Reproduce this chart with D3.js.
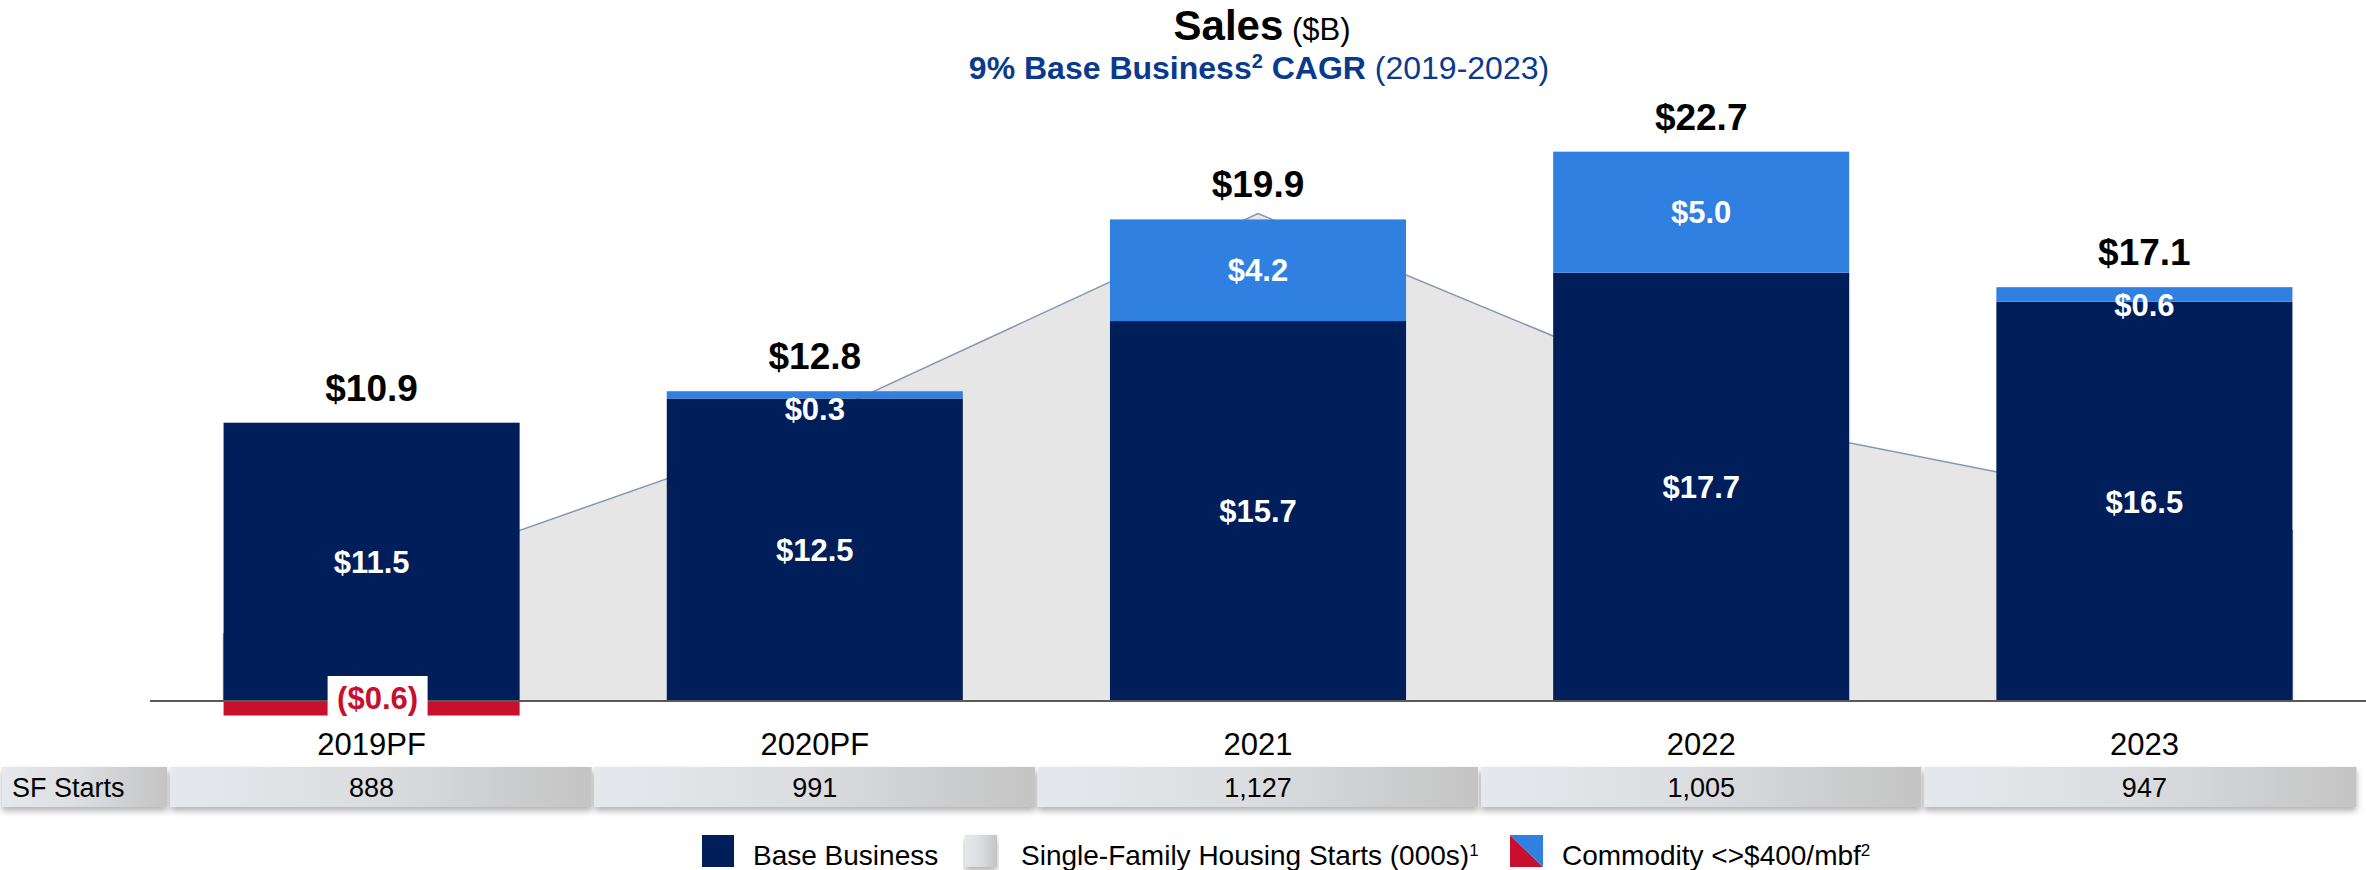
<!DOCTYPE html>
<html>
<head>
<meta charset="utf-8">
<script src="https://cdn.jsdelivr.net/npm/d3@7"></script>
<style>
  body { margin: 0; background: #fff; }
  text { font-family: "Liberation Sans", Arial, sans-serif; }
</style>
</head>
<body>
<div id="chart"></div>
<script>
  const years = ["2019PF", "2020PF", "2021", "2022", "2023"];
  const baseBusiness = [11.5, 12.5, 15.7, 17.7, 16.5];
  const commodity = [-0.6, 0.3, 4.2, 5.0, 0.6];
  const totals = [10.9, 12.8, 19.9, 22.7, 17.1];
  const sfStarts = [888, 991, 1127, 1005, 947];

  const width = 2366;
  const height = 870;
  const baseY = 701;

  const navy = "#001e5a";
  const blue = "#2f80e0";
  const red = "#c8102e";

  const svg = d3.select("#chart")
    .append("svg")
    .attr("width", width)
    .attr("height", height);

  const defs = svg.append("defs");

  const cellGrad = defs.append("linearGradient")
    .attr("id", "cellGrad")
    .attr("x1", "0").attr("x2", "1").attr("y1", "0").attr("y2", "0");
  cellGrad.append("stop").attr("offset", "0%").attr("stop-color", "#e5e8ec");
  cellGrad.append("stop").attr("offset", "45%").attr("stop-color", "#dcdee1");
  cellGrad.append("stop").attr("offset", "100%").attr("stop-color", "#c4c4c4");

  const shadow = defs.append("filter")
    .attr("id", "shadow")
    .attr("x", "-5%").attr("y", "-20%")
    .attr("width", "110%").attr("height", "160%");
  shadow.append("feDropShadow")
    .attr("dx", 0).attr("dy", 4)
    .attr("stdDeviation", 3)
    .attr("flood-color", "#000")
    .attr("flood-opacity", 0.3);

  const x = d3.scaleBand()
    .domain(years)
    .range([150, 2366])
    .paddingInner(0.332)
    .paddingOuter(0.166);

  const y = d3.scaleLinear()
    .domain([0, 25])
    .range([baseY, baseY - 25 * 24.2]);

  // housing starts area behind the bars, from first bar left edge to last bar right edge
  const xArea = d3.scalePoint()
    .domain(years)
    .range([x(years[0]), x(years[years.length - 1]) + x.bandwidth()]);

  const ySf = d3.scaleLinear()
    .domain([850, 1150])
    .range([baseY, 173]);

  const sfData = years.map((yr, i) => ({ year: yr, value: sfStarts[i] }));

  const area = d3.area()
    .x(d => xArea(d.year))
    .y0(baseY)
    .y1(d => ySf(d.value));

  svg.append("path")
    .datum(sfData)
    .attr("d", area)
    .attr("fill", "#e6e6e6");

  const outline = "M" + xArea(years[0]) + "," + baseY + "L" +
    sfData.map(d => xArea(d.year) + "," + ySf(d.value)).join("L") +
    "L" + xArea(years[years.length - 1]) + "," + baseY;

  svg.append("path")
    .attr("d", outline)
    .attr("fill", "none")
    .attr("stroke", "#8497b0")
    .attr("stroke-width", 1.5);

  const bars = years.map((yr, i) => ({
    year: yr,
    base: baseBusiness[i],
    comm: commodity[i],
    total: totals[i]
  }));

  const g = svg.append("g");

  g.selectAll(".base")
    .data(bars)
    .enter()
    .append("rect")
    .attr("class", "base")
    .attr("x", d => x(d.year))
    .attr("width", x.bandwidth())
    .attr("y", d => y(d.base))
    .attr("height", d => y(0) - y(d.base))
    .attr("fill", navy);

  g.selectAll(".comm")
    .data(bars)
    .enter()
    .append("rect")
    .attr("class", "comm")
    .attr("x", d => x(d.year))
    .attr("width", x.bandwidth())
    .attr("y", d => d.comm >= 0 ? y(d.base + d.comm) : y(0))
    .attr("height", d => Math.abs(y(0) - y(Math.abs(d.comm))))
    .attr("fill", d => d.comm >= 0 ? blue : red);

  svg.append("line")
    .attr("x1", 150).attr("x2", width)
    .attr("y1", baseY).attr("y2", baseY)
    .attr("stroke", "#595959")
    .attr("stroke-width", 2);

  const labels = svg.append("g");

  const cx = d => x(d.year) + x.bandwidth() / 2;
  const barTop = d => y(Math.max(d.base, d.base + d.comm));

  // totals above bars
  labels.selectAll(".total")
    .data(bars)
    .enter()
    .append("text")
    .attr("x", cx)
    .attr("y", d => barTop(d) - 22)
    .attr("text-anchor", "middle")
    .style("font-size", "37px")
    .style("font-weight", "bold")
    .attr("fill", "#000")
    .text(d => "$" + d.total.toFixed(1));

  labels.selectAll(".baseLabel")
    .data(bars)
    .enter()
    .append("text")
    .attr("x", cx)
    .attr("y", d => (y(0) + y(d.base)) / 2)
    .attr("dy", "0.36em")
    .attr("text-anchor", "middle")
    .style("font-size", "31px")
    .style("font-weight", "bold")
    .attr("fill", "#fff")
    .text(d => "$" + d.base.toFixed(1));

  labels.selectAll(".commLabel")
    .data(bars.filter(d => d.comm >= 0))
    .enter()
    .append("text")
    .attr("x", cx)
    .attr("y", d => Math.max((y(d.base) + y(d.base + d.comm)) / 2, y(d.base + d.comm) + 18))
    .attr("dy", "0.36em")
    .attr("text-anchor", "middle")
    .style("font-size", "31px")
    .style("font-weight", "bold")
    .attr("fill", "#fff")
    .text(d => "$" + d.comm.toFixed(1));

  const neg = labels.selectAll(".negLabel")
    .data(bars.filter(d => d.comm < 0))
    .enter()
    .append("g");

  neg.append("rect")
    .attr("x", d => cx(d) - 44)
    .attr("width", 100)
    .attr("y", y(0) - 25)
    .attr("height", 40)
    .attr("fill", "#fff");

  neg.append("text")
    .attr("x", d => cx(d) + 6)
    .attr("y", y(0) - 3)
    .attr("dy", "0.36em")
    .attr("text-anchor", "middle")
    .style("font-size", "31px")
    .style("font-weight", "bold")
    .attr("fill", red)
    .text(d => "($" + Math.abs(d.comm).toFixed(1) + ")");

  labels.selectAll(".cat")
    .data(bars)
    .enter()
    .append("text")
    .attr("x", cx)
    .attr("y", 755)
    .attr("text-anchor", "middle")
    .style("font-size", "31px")
    .attr("fill", "#000")
    .text(d => d.year);

  // SF Starts table row
  const rowTop = 767;
  const rowH = 40;
  const centers = bars.map(cx);
  const cells = bars.map((d, i) => ({
    x0: i === 0 ? 169 : (centers[i - 1] + centers[i]) / 2,
    x1: i === bars.length - 1 ? 2358 : (centers[i] + centers[i + 1]) / 2,
    cx: centers[i],
    value: sfStarts[i]
  }));

  const row = svg.append("g").attr("filter", "url(#shadow)");

  row.append("rect")
    .attr("x", 2).attr("y", rowTop)
    .attr("width", 165).attr("height", rowH)
    .attr("fill", "url(#cellGrad)");

  row.selectAll(".cell")
    .data(cells)
    .enter()
    .append("rect")
    .attr("x", d => d.x0 + 1.5)
    .attr("y", rowTop)
    .attr("width", d => d.x1 - d.x0 - 3)
    .attr("height", rowH)
    .attr("fill", "url(#cellGrad)");

  svg.append("text")
    .attr("x", 12).attr("y", 797)
    .style("font-size", "27px")
    .attr("fill", "#000")
    .text("SF Starts");

  svg.selectAll(".sfVal")
    .data(cells)
    .enter()
    .append("text")
    .attr("x", d => d.cx)
    .attr("y", 797)
    .attr("text-anchor", "middle")
    .style("font-size", "27px")
    .attr("fill", "#000")
    .text(d => d3.format(",")(d.value));

  // titles
  const title = svg.append("text")
    .attr("x", 1262).attr("y", 40)
    .attr("text-anchor", "middle");
  title.append("tspan").style("font-size", "42px").style("font-weight", "bold").text("Sales");
  title.append("tspan").style("font-size", "31px").text(" ($B)");

  const sub = svg.append("text")
    .attr("x", 1259).attr("y", 79)
    .attr("text-anchor", "middle")
    .attr("fill", "#0a3a8e")
    .style("font-size", "32px");
  sub.append("tspan").style("font-weight", "bold").text("9% Base Business");
  sub.append("tspan").style("font-weight", "bold").style("font-size", "20px")
    .attr("baseline-shift", "super").text("2");
  sub.append("tspan").style("font-weight", "bold").text(" CAGR");
  sub.append("tspan").text(" (2019-2023)");

  // legend
  const legY = 835;
  const leg = svg.append("g");

  leg.append("rect")
    .attr("x", 702).attr("y", legY)
    .attr("width", 32).attr("height", 32)
    .attr("fill", navy);
  leg.append("text")
    .attr("x", 753).attr("y", 865)
    .style("font-size", "28px")
    .text("Base Business");

  leg.append("rect")
    .attr("x", 965).attr("y", legY)
    .attr("width", 32).attr("height", 32)
    .attr("fill", "url(#cellGrad)")
    .attr("filter", "url(#shadow)");
  const legSf = leg.append("text")
    .attr("x", 1021).attr("y", 865)
    .style("font-size", "28px");
  legSf.append("tspan").text("Single-Family Housing Starts (000s)");
  legSf.append("tspan").style("font-size", "17px").attr("baseline-shift", "super").text("1");

  leg.append("path")
    .attr("d", `M1510,${legY}L1510,${legY + 32}L1543,${legY + 32}Z`)
    .attr("fill", red);
  leg.append("path")
    .attr("d", `M1510,${legY}L1543,${legY}L1543,${legY + 32}Z`)
    .attr("fill", blue);
  const legC = leg.append("text")
    .attr("x", 1562).attr("y", 865)
    .style("font-size", "28px");
  legC.append("tspan").text("Commodity <>$400/mbf");
  legC.append("tspan").style("font-size", "17px").attr("baseline-shift", "super").text("2");
</script>
</body>
</html>
